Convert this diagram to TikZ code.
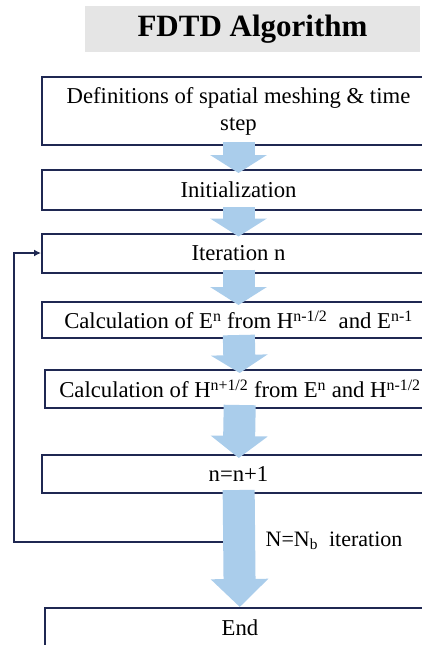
\documentclass[tikz,border=0pt]{standalone}
\usepackage{fontspec}
\setmainfont{Liberation Serif}
\usetikzlibrary{arrows.meta}
\definecolor{navy}{RGB}{31,40,82}
\definecolor{flowblue}{RGB}{170,205,235}
\tikzset{
  stepbox/.style={draw=navy, line width=2pt, fill=white, minimum width=393pt,
    align=center, font=\fontsize{22.7}{27}\selectfont, inner sep=0pt},
  flow/.style={draw=flowblue, line width=32pt, shorten <=-4pt, shorten >=-4pt,
    -{Triangle[width=56pt,length=#1]}},
  flow/.default=18pt
}

\begin{document}
\begin{tikzpicture}[x=1pt,y=-1pt]
      \useasboundingbox (0,0) rectangle (422,645);
      \clip (0,0) rectangle (422,645);
      % title
      \node (title) at (252.5,29) [fill=black!10, minimum width=335pt, minimum height=46pt,
        font=\fontsize{31}{36}\selectfont\bfseries] {FDTD Algorithm};
      % steps
      \node (defs) at (238.5,111) [stepbox, minimum height=68pt]
        {Definitions of spatial meshing \& time\\step};
      \node (init) at (238.5,190) [stepbox, minimum height=40pt] {Initialization};
      \node (iter) at (238.5,253) [stepbox, minimum height=39pt] {Iteration n};
      \node (cale) at (238.5,320) [stepbox, minimum height=36pt]
        {Calculation of E\textsuperscript{n} from H\textsuperscript{n-1/2}\ \ and E\textsuperscript{n-1}};
      \node (calh) at (240,389) [stepbox, minimum height=38pt, minimum width=390pt]
        {Calculation of H\textsuperscript{n+1/2} from E\textsuperscript{n} and H\textsuperscript{n-1/2}};
      \node (incr) at (238.5,474) [stepbox, minimum height=38pt] {n=n+1};
      \node (end) at (240,628) [stepbox, minimum height=40pt, minimum width=390pt] {End};
      \coordinate (ret) at (229,542);
      \node (cond) at (334,541) [font=\fontsize{22}{27}\selectfont]
        {N=N\textsubscript{b}\ \ iteration};
      % loop back
      \draw [navy, line width=2pt, {Latex[reversed,length=7pt,width=8pt]}-{Latex[length=7pt,width=7pt]}]
        (ret) -- (14,542) |- (iter.west);
      % flow arrows
      \draw [flow] (defs) -- (init);
      \draw [flow] (init) -- (iter);
      \draw [flow] (iter) -- (cale);
      \draw [flow] (cale) -- (calh);
      \draw [flow=22pt] (calh) -- (incr);
      \draw [flow=28pt, shorten >=0pt] (incr) -- (end);
    \end{tikzpicture}
\end{document}
